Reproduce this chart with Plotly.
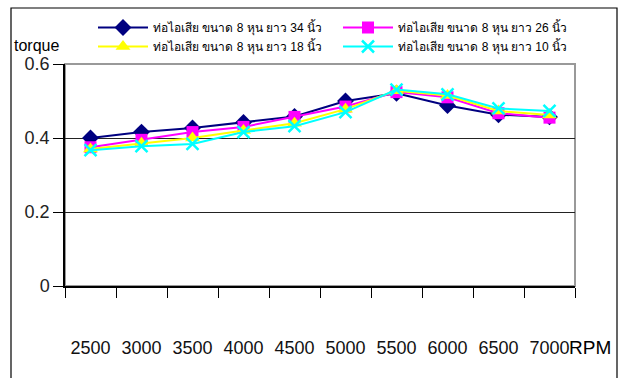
import plotly.graph_objects as go

rpm = ["2500", "3000", "3500", "4000", "4500", "5000", "5500", "6000", "6500", "7000"]
names = ["ท่อไอเสีย ขนาด 8 หุน ยาว 34 นิ้ว", "ท่อไอเสีย ขนาด 8 หุน ยาว 26 นิ้ว",
         "ท่อไอเสีย ขนาด 8 หุน ยาว 18 นิ้ว", "ท่อไอเสีย ขนาด 8 หุน ยาว 10 นิ้ว"]
t34 = [0.400, 0.416, 0.427, 0.442, 0.458, 0.500, 0.521, 0.488, 0.463, 0.457]
t26 = [0.375, 0.395, 0.416, 0.430, 0.457, 0.485, 0.524, 0.510, 0.467, 0.455]
t18 = [0.370, 0.386, 0.400, 0.420, 0.440, 0.478, 0.528, 0.515, 0.473, 0.462]
t10 = [0.367, 0.378, 0.384, 0.416, 0.432, 0.470, 0.531, 0.518, 0.480, 0.473]
yticks = [0, 0.2, 0.4, 0.6]
ytext = ["0", "0.2", "0.4", "0.6"]

series = [t34, t26, t18, t10]
colors = ["#000080", "#FF00FF", "#FFFF00", "#00FFFF"]
symbols = ["diamond", "square", "triangle-up", "x-thin"]
sizes = [13, 12, 13, 12]

FONT = "Liberation Sans, Arial, Noto Sans, sans-serif"

fig = go.Figure()
for i in range(4):
    mk = dict(symbol=symbols[i], size=sizes[i], color=colors[i])
    if symbols[i] == "x-thin":
        mk["line"] = dict(color=colors[i], width=2.5)
    else:
        mk["line"] = dict(width=0)
    fig.add_trace(go.Scatter(x=rpm, y=series[i], name=names[i], mode="lines+markers",
                             line=dict(color=colors[i], width=2), marker=mk,
                             cliponaxis=False))

L, R, T, B = 65, 51, 64, 92
W, H = 626, 378
pw, ph = W - L - R, H - T - B

def px_x(p):
    return (p - L) / pw

def px_y(p):
    return (H - B - p) / ph

fig.update_layout(
    width=W, height=H,
    margin=dict(l=L, r=R, t=T, b=B, autoexpand=False),
    paper_bgcolor="white", plot_bgcolor="white",
    font=dict(family=FONT, color="#000000"),
    showlegend=True,
    legend=dict(orientation="h", xref="container", yref="container",
                x=93 / W, y=1 - 13 / H, xanchor="left", yanchor="top",
                entrywidth=180, entrywidthmode="pixels",
                font=dict(size=12, family=FONT), bgcolor="rgba(0,0,0,0)",
                tracegroupgap=0, itemwidth=50),
    xaxis=dict(type="category", tickson="boundaries", ticks="outside", ticklen=10,
               tickcolor="black", tickwidth=1, showline=True, linecolor="black",
               linewidth=1.5, showgrid=False, ticklabelstandoff=45,
               tickfont=dict(size=18, color="#111111"), range=[-0.5, 9.5]),
    yaxis=dict(range=[0, 0.6], tickvals=yticks, ticktext=ytext, ticks="outside",
               ticklen=10, tickcolor="black", showline=True, linecolor="black",
               linewidth=1.5, showgrid=True, gridcolor="#222222", gridwidth=1,
               zeroline=False, tickfont=dict(size=18, color="#222222")),
    shapes=[
        dict(type="rect", xref="paper", yref="paper", x0=0, x1=1, y0=0, y1=1,
             line=dict(color="#999999", width=2), layer="below"),
        dict(type="rect", xref="paper", yref="paper", x0=px_x(11), x1=px_x(617),
             y0=px_y(400), y1=px_y(8), line=dict(color="black", width=1.2)),
    ],
    annotations=[
        dict(text="torque", xref="paper", yref="paper", x=px_x(12), y=px_y(46),
             xanchor="left", yanchor="middle", showarrow=False,
             font=dict(size=16, color="black")),
        dict(text="RPM", xref="paper", yref="paper", x=px_x(567), y=px_y(347),
             xanchor="left", yanchor="middle", showarrow=False,
             font=dict(size=19, color="black")),
    ],
)

fig.write_html("out.html")
